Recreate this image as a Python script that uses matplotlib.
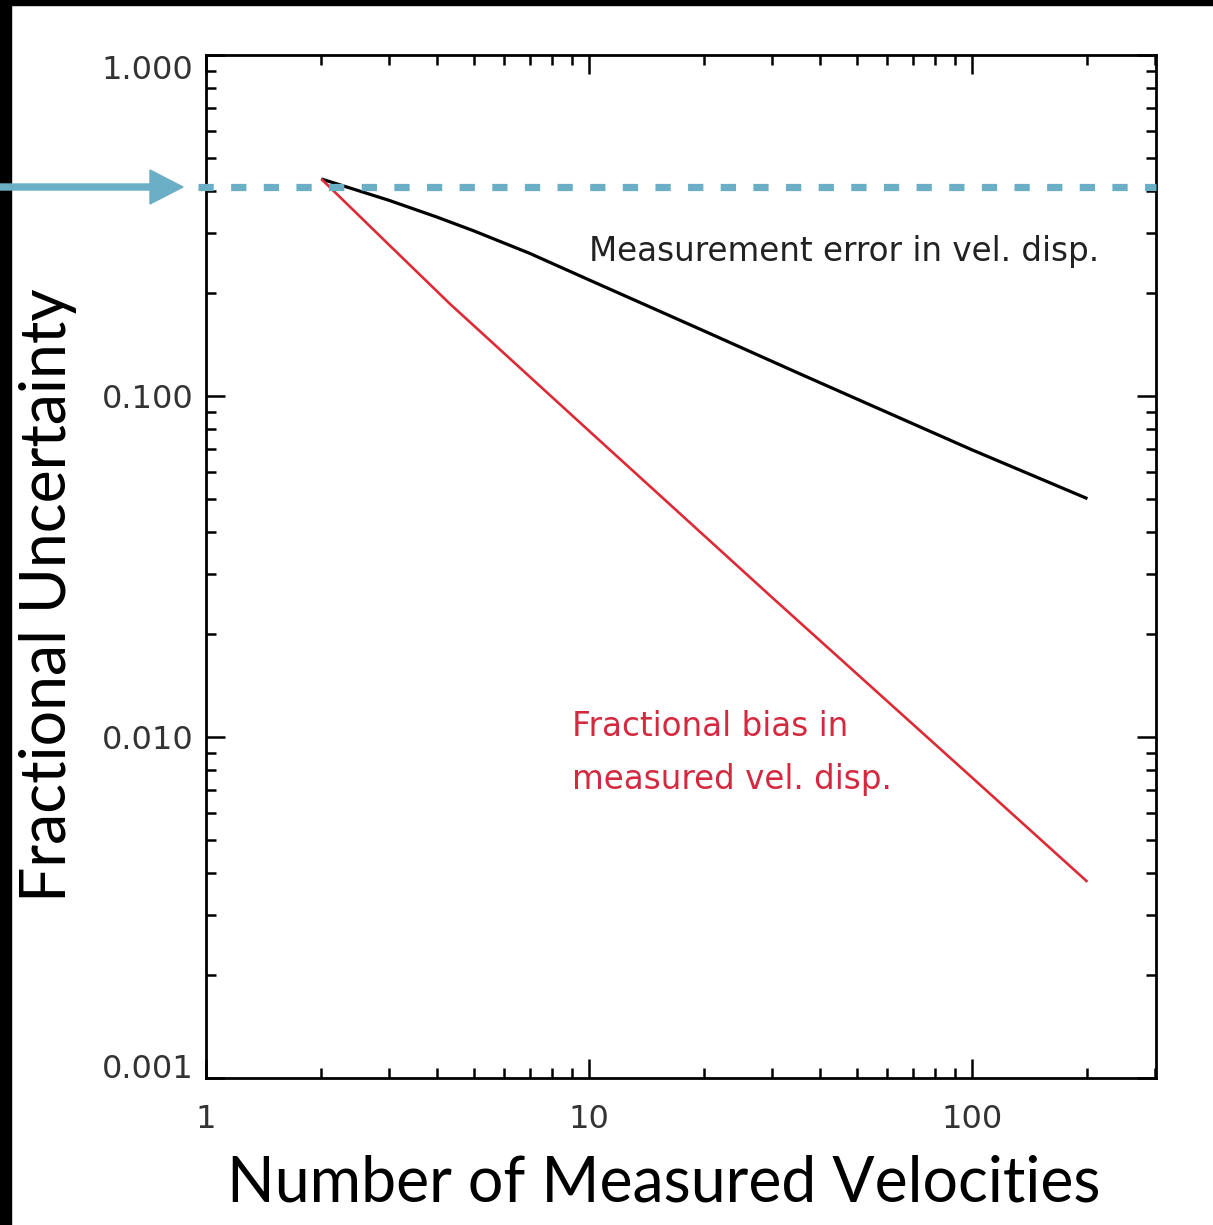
import matplotlib
matplotlib.use('Agg')
import matplotlib.pyplot as plt
from matplotlib.patches import Rectangle, FancyArrow
from matplotlib.transforms import IdentityTransform, blended_transform_factory

# ---- data ----
n_error = [2, 3, 4, 5, 7, 10, 20, 35, 50, 100, 200]
frac_error = [0.433, 0.375, 0.335, 0.305, 0.262, 0.219, 0.155, 0.117, 0.098, 0.0695, 0.050]
n_bias = [2, 3, 4.34, 10, 30, 100, 200]
frac_bias = [0.433, 0.278, 0.186, 0.079, 0.0257, 0.0076, 0.00376]
reference_level = 0.41
x_ticks = [1, 10, 100]
x_tick_labels = ['1', '10', '100']
y_ticks = [0.001, 0.01, 0.1, 1.0]
y_tick_labels = ['0.001', '0.010', '0.100', '1.000']

plt.rcParams['lines.scale_dashes'] = False

W, H = 1213, 1225
fig = plt.figure(figsize=(W / 100, H / 100), dpi=100)
fig.patch.set_facecolor('white')
ax = fig.add_axes([206 / W, 1 - 1078 / H, (1156 - 206) / W, (1078 - 55) / H])

ax.plot(n_error, frac_error, color='black', lw=2.3, solid_capstyle='butt')
ax.plot(n_bias, frac_bias, color='#dc2b36', lw=1.9, solid_capstyle='butt')

ax.set_xscale('log')
ax.set_yscale('log')
ax.set_xlim(1, 302)
ax.set_ylim(0.001, 1.0)

ax.set_xticks(x_ticks)
ax.set_xticklabels(x_tick_labels)
ax.set_yticks(y_ticks)
ax.set_yticklabels(y_tick_labels)

for s in ax.spines.values():
    s.set_linewidth(2.0)
ax.tick_params(which='both', direction='in', top=True, right=True, width=1.8,
               colors='black', labelcolor='#333333', labelsize=23)
ax.tick_params(which='major', length=14)
ax.tick_params(which='minor', length=7)
ax.tick_params(axis='x', which='major', pad=19)
ax.tick_params(axis='y', which='major', pad=9)

# IDL-like label placement for the end labels
yt = ax.yaxis.get_major_ticks()
yt[0].label1.set_verticalalignment('baseline')
yt[-1].label1.set_verticalalignment('top')

# dashed reference line
trans = blended_transform_factory(ax.transAxes, ax.transData)
ax.plot([-0.008, 1.0], [reference_level, reference_level], transform=trans,
        color='#6aafc5', lw=5.2, dashes=(11, 12.5), dash_capstyle='butt',
        clip_on=False, zorder=5)

# annotations
ax.text(10, 0.266, 'Measurement error in vel. disp.', fontsize=23.5,
        family='DejaVu Sans', color='#222222', va='center', ha='left')
ax.text(9.03, 0.0107, 'Fractional bias in', fontsize=23.5,
        family='DejaVu Sans', color='#d42a40', va='center', ha='left')
ax.text(9.03, 0.00753, 'measured vel. disp.', fontsize=23.5,
        family='DejaVu Sans', color='#d42a40', va='center', ha='left')

# axis titles
fig.text(664 / W, 1 - 1183 / H, 'Number of Measured Velocities', fontsize=45,
         family='Lato', color='black', ha='center', va='center')
fig.text(48 / W, 1 - 595 / H, 'Fractional Uncertainty', fontsize=45,
         family='Lato', color='black', ha='center', va='center', rotation=90)

# black frame bars
fig.add_artist(Rectangle((0, 1 - 5 / H), 1, 5 / H, transform=fig.transFigure,
                         color='black', zorder=10))
fig.add_artist(Rectangle((0, 0), 11 / W, 1, transform=fig.transFigure,
                         color='black', zorder=10))

# blue arrow (pixel coords)
arrow = FancyArrow(0, H - 187, 183, 0, width=6, head_width=34, head_length=33,
                   length_includes_head=True, color='#6aafc5',
                   transform=IdentityTransform(), zorder=11)
fig.add_artist(arrow)

fig.savefig('out.png', dpi=100)
